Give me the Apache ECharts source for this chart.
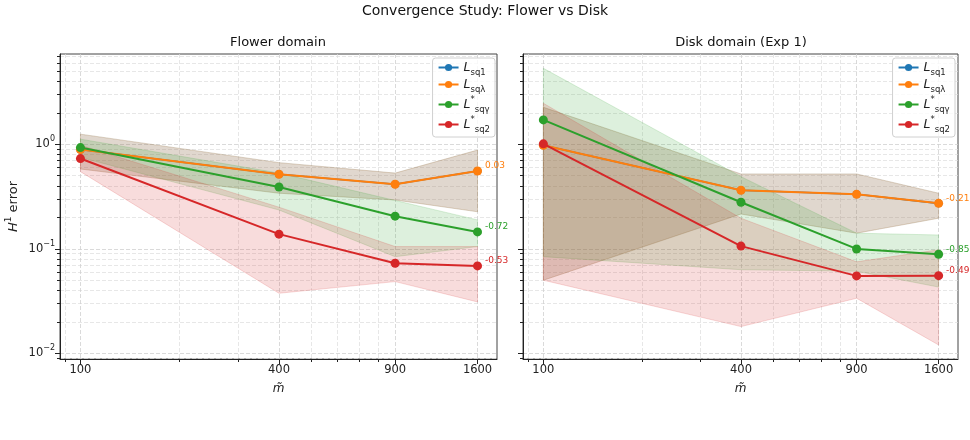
<!DOCTYPE html>
<html>
<head>
<meta charset="utf-8">
<script src="https://cdn.jsdelivr.net/npm/echarts@6/dist/echarts.min.js"></script>
<style>
html, body { margin: 0; padding: 0; background: #fff; }
#main { width: 970px; height: 440px; }
</style>
</head>
<body>
<div id="main"></div>
<script>
// sample sizes m~ (x) and axis ticks
var mValues = [100, 400, 900, 1600];
var mMinor = [90, 200, 300, 500, 600, 700, 800];
var yMajor = [0.01, 0.1, 1];
var yMinor = [0.009, 0.02, 0.03, 0.04, 0.05, 0.06, 0.07, 0.08, 0.09,
              0.2, 0.3, 0.4, 0.5, 0.6, 0.7, 0.8, 0.9, 2, 3, 4, 5, 6, 7];

var seriesNames = ['Lsq1', 'Lsqλ', 'L*sqγ', 'L*sq2'];
var colors = ['#1f77b4', '#ff7f0e', '#2ca02c', '#d62728'];

// Flower domain: mean, lower, upper
var flowerSq1 = [0.89, 0.516, 0.414, 0.555];
var flowerSq1Lo = [0.58, 0.34, 0.293, 0.226];
var flowerSq1Hi = [1.25, 0.667, 0.53, 0.88];
var flowerSqLam = [0.89, 0.516, 0.414, 0.555];
var flowerSqLamLo = [0.58, 0.34, 0.293, 0.226];
var flowerSqLamHi = [1.25, 0.667, 0.53, 0.88];
var flowerSqGam = [0.93, 0.39, 0.205, 0.145];
var flowerSqGamLo = [0.75, 0.235, 0.084, 0.105];
var flowerSqGamHi = [1.12, 0.53, 0.29, 0.189];
var flowerSq2 = [0.73, 0.138, 0.0727, 0.0685];
var flowerSq2Lo = [0.547, 0.0375, 0.0485, 0.031];
var flowerSq2Hi = [0.98, 0.25, 0.105, 0.105];
var flowerSlopes = [null, '0.03', '-0.72', '-0.53'];

// Disk domain (Exp 1)
var diskSq1 = [0.98, 0.363, 0.332, 0.272];
var diskSq1Lo = [0.05, 0.215, 0.141, 0.196];
var diskSq1Hi = [2.26, 0.52, 0.52, 0.34];
var diskSqLam = [0.98, 0.363, 0.332, 0.272];
var diskSqLamLo = [0.05, 0.215, 0.141, 0.196];
var diskSqLamHi = [2.26, 0.52, 0.52, 0.34];
var diskSqGam = [1.71, 0.279, 0.0996, 0.0886];
var diskSqGamLo = [0.084, 0.063, 0.061, 0.043];
var diskSqGamHi = [5.34, 0.49, 0.141, 0.1355];
var diskSq2 = [1.01, 0.106, 0.055, 0.0553];
var diskSq2Lo = [0.05, 0.018, 0.0336, 0.012];
var diskSq2Hi = [2.47, 0.196, 0.075, 0.0977];
var diskSlopes = [null, '-0.21', '-0.85', '-0.49'];

var lg = Math.log10;
var xMin = lg(86.7), xMax = lg(1833);
var yMin = -2.055, yMax = 0.864;
var font = 'DejaVu Sans';

var myChart = echarts.init(document.getElementById('main'));

function rgba(hex, a) {
    var n = parseInt(hex.slice(1), 16);
    return 'rgba(' + (n >> 16) + ',' + ((n >> 8) & 255) + ',' + (n & 255) + ',' + a + ')';
}

var gridLine = { show: true, lineStyle: { type: [4, 2], color: '#d0d0d0', width: 0.8 } };
var gridLineMinor = { show: true, lineStyle: { type: [4, 2], color: '#dcdcdc', width: 0.7 } };

function xAxes(g) {
    var main = {
        type: 'value', gridIndex: g, min: xMin, max: xMax, position: 'bottom',
        axisLine: { show: true, onZero: false, lineStyle: { color: '#222' } },
        axisTick: { show: true, length: 5, customValues: mValues.map(lg), lineStyle: { color: '#222' } },
        axisLabel: {
            customValues: mValues.map(lg), margin: 5,
            formatter: function (v) { return Math.round(Math.pow(10, v)); },
            fontFamily: font, fontSize: 11.5, color: '#222'
        },
        splitLine: gridLine,
        name: 'm̃', nameLocation: 'middle', nameGap: 24,
        nameTextStyle: { fontFamily: font, fontSize: 12, fontStyle: 'italic', color: '#222' }
    };
    var minor = {
        type: 'value', gridIndex: g, min: xMin, max: xMax, position: 'bottom', offset: 0,
        axisLine: { show: false, onZero: false },
        axisTick: { show: true, length: 3, customValues: mMinor.map(lg), lineStyle: { color: '#222' } },
        axisLabel: { show: false },
        splitLine: gridLineMinor
    };
    return [main, minor];
}

function yAxes(g) {
    var main = {
        type: 'value', gridIndex: g, min: yMin, max: yMax, position: 'left',
        axisLine: { show: true, onZero: false, lineStyle: { color: '#222' } },
        axisTick: { show: true, length: 5, customValues: yMajor.map(lg), lineStyle: { color: '#222' } },
        axisLabel: {
            show: g === 0, customValues: yMajor.map(lg), margin: 5,
            formatter: function (v) { return '{b|10}{s|' + Math.round(v).toString().replace('-', '−') + '}'; },
            rich: {
                b: { fontFamily: font, fontSize: 11.5, color: '#222', lineHeight: 18, verticalAlign: 'middle' },
                s: { fontFamily: font, fontSize: 8, color: '#222', lineHeight: 8, verticalAlign: 'top' }
            }
        },
        splitLine: gridLine
    };
    if (g === 0) {
        main.name = '{i|H}{s|1} error';
        main.nameLocation = 'middle';
        main.nameGap = 36;
        main.nameRotate = 90;
        main.nameTextStyle = {
            rich: {
                i: { fontFamily: font, fontSize: 13, fontStyle: 'italic', color: '#222', lineHeight: 20, verticalAlign: 'middle' },
                s: { fontFamily: font, fontSize: 9, color: '#222', lineHeight: 9, verticalAlign: 'top' }
            },
            fontFamily: font, fontSize: 13, color: '#222'
        };
    }
    var minor = {
        type: 'value', gridIndex: g, min: yMin, max: yMax, position: 'left', offset: 0,
        axisLine: { show: false, onZero: false },
        axisTick: { show: true, length: 3, customValues: yMinor.map(lg), lineStyle: { color: '#222' } },
        axisLabel: { show: false },
        splitLine: gridLineMinor
    };
    return [main, minor];
}

function pairs(vals) {
    return mValues.map(function (m, i) { return [lg(m), lg(vals[i])]; });
}

// shaded band between lo and hi, drawn as one polygon through the axes
function bandSeries(g, k, lo, hi) {
    var rows = mValues.map(function (m, i) { return [lg(m), lg(lo[i]), lg(hi[i])]; });
    return {
        type: 'custom', name: 'band' + g + k, xAxisIndex: g * 2, yAxisIndex: g * 2,
        silent: true, z: 1, animation: false,
        encode: { x: 0, y: [1, 2] },
        data: rows,
        renderItem: function (params, api) {
            if (params.dataIndex !== 0) return null;
            var top = rows.map(function (r) { return api.coord([r[0], r[2]]); });
            var bottom = rows.map(function (r) { return api.coord([r[0], r[1]]); }).reverse();
            return {
                type: 'polygon',
                shape: { points: top.concat(bottom) },
                style: { fill: rgba(colors[k], 0.16), stroke: rgba(colors[k], 0.22), lineWidth: 0.8 }
            };
        }
    };
}

function meanSeries(g, k, mean, slope) {
    var data = pairs(mean);
    if (slope) {
        var last = data.length - 1;
        data[last] = {
            value: data[last],
            label: {
                show: true, position: 'right', distance: 3, offset: [0, -5],
                formatter: slope, color: colors[k], fontFamily: font, fontSize: 9
            }
        };
    }
    return {
        type: 'line', name: seriesNames[k], xAxisIndex: g * 2, yAxisIndex: g * 2,
        data: data, symbol: 'circle', symbolSize: k === 0 ? 8 : 9, z: 3 + k, animation: false,
        itemStyle: { color: colors[k] }, lineStyle: { width: k === 0 ? 1.6 : 2, color: colors[k] }
    };
}

var panels = [
    { means: [flowerSq1, flowerSqLam, flowerSqGam, flowerSq2],
      los: [flowerSq1Lo, flowerSqLamLo, flowerSqGamLo, flowerSq2Lo],
      his: [flowerSq1Hi, flowerSqLamHi, flowerSqGamHi, flowerSq2Hi],
      slopes: flowerSlopes },
    { means: [diskSq1, diskSqLam, diskSqGam, diskSq2],
      los: [diskSq1Lo, diskSqLamLo, diskSqGamLo, diskSq2Lo],
      his: [diskSq1Hi, diskSqLamHi, diskSqGamHi, diskSq2Hi],
      slopes: diskSlopes }
];

var series = [];
panels.forEach(function (p, g) {
    for (var k = 0; k < 4; k++) series.push(bandSeries(g, k, p.los[k], p.his[k]));
    for (var k2 = 0; k2 < 4; k2++) series.push(meanSeries(g, k2, p.means[k2], p.slopes[k2]));
});

var legendRich = {
    l: { fontFamily: font, fontSize: 12.5, fontStyle: 'italic', color: '#222', lineHeight: 19, verticalAlign: 'middle' },
    sub: { fontFamily: font, fontSize: 8.5, color: '#222', lineHeight: 8, verticalAlign: 'bottom' },
    sup: { fontFamily: font, fontSize: 8.5, color: '#222', lineHeight: 8, verticalAlign: 'top' }
};
function legendText(name) {
    if (name.charAt(1) === '*') return '{l|L}{sup|*}{sub|' + name.slice(2) + '}';
    return '{l|L}{sub|' + name.slice(1) + '}';
}
function legend(right) {
    return {
        data: seriesNames, orient: 'vertical', right: right, top: 58,
        itemWidth: 20, itemHeight: 9, itemGap: 1,
        padding: [3, 5, 3, 5],
        borderColor: '#d0d0d0', borderWidth: 1, borderRadius: 3,
        backgroundColor: 'rgba(255,255,255,0.8)',
        formatter: legendText,
        textStyle: { rich: legendRich }
    };
}

option = {
    backgroundColor: '#fff',
    animation: false,
    grid: [
        { left: 60, top: 54, width: 437, height: 305, show: true, borderColor: '#444', borderWidth: 1 },
        { left: 523, top: 54, width: 435, height: 305, show: true, borderColor: '#444', borderWidth: 1 }
    ],
    legend: [legend(475), legend(15)],
    xAxis: xAxes(0).concat(xAxes(1)),
    yAxis: yAxes(0).concat(yAxes(1)),
    graphic: [
        { type: 'text', left: 'center', top: 4,
          style: { text: 'Convergence Study: Flower vs Disk', font: '14px "DejaVu Sans"', fill: '#111' } },
        { type: 'text', x: 278, y: 43,
          style: { text: 'Flower domain', font: '13px "DejaVu Sans"', fill: '#111', textAlign: 'center', textVerticalAlign: 'middle' } },
        { type: 'text', x: 741, y: 43,
          style: { text: 'Disk domain (Exp 1)', font: '13px "DejaVu Sans"', fill: '#111', textAlign: 'center', textVerticalAlign: 'middle' } }
    ],
    series: series
};

myChart.setOption(option);
</script>
</body>
</html>
